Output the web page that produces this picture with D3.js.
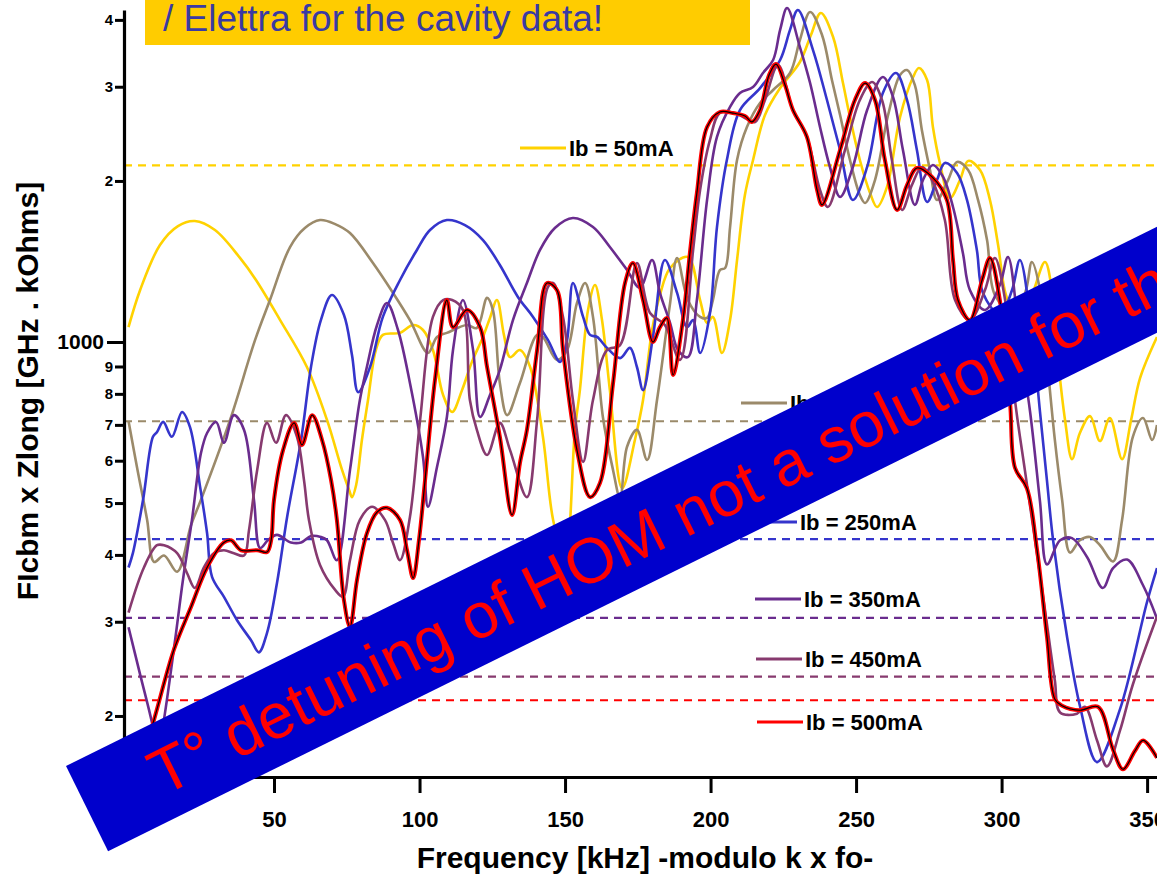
<!DOCTYPE html>
<html>
<head>
<meta charset="utf-8">
<script src="https://cdn.jsdelivr.net/npm/d3@7"></script>
<style>
  html, body { margin: 0; padding: 0; background: #fff; overflow: hidden; }
  svg { display: block; font-family: "Liberation Sans", Arial, sans-serif; }
</style>
</head>
<body>
<svg id="chart" width="1157" height="874"></svg>
<script>
// beam currents and their instability thresholds (GHz . kOhms)
const seriesLabels = ["Ib = 50mA", "Ib = 150mA", "Ib = 250mA", "Ib = 350mA", "Ib = 450mA", "Ib = 500mA"];
const thresholds = [2138, 711, 428, 305, 237, 214];
const xTicks = [50, 100, 150, 200, 250, 300, 350];
const yTicks = [200, 300, 400, 500, 600, 700, 800, 900, 1000, 2000, 3000, 4000];
const yTickLabels = ["2", "3", "4", "5", "6", "7", "8", "9", "1000", "2", "3", "4"];

// [frequency kHz, FIcbm x Zlong]
const ib50 = [[0,1066],[4.0,1251],[10.8,1518],[17.0,1647],[22.8,1683],[29.7,1619],[38.3,1436],[43.8,1306],[52.1,1099],[61.3,898],[68.2,715],[73.4,576],[75.8,529],[76.8,513],[78.2,540],[80.2,656],[82.3,779],[85.0,966],[87.4,1031],[93.3,1040],[97.8,1076],[101.2,1053],[104.6,966],[108.1,796],[111.2,740],[114.6,813],[118.0,918],[121.8,1022],[124.2,1109],[126.6,1198],[129.0,1031],[131.1,937],[134.5,966],[138.0,898],[142.4,665],[145.9,465],[150.0,391],[153.4,685],[155.1,813],[157.9,1148],[160.3,1278],[162.7,1099],[165.4,813],[169.6,533],[174.0,656],[176.8,779],[179.9,1053],[182.6,1224],[186.1,1375],[192.2,1442],[196.4,1198],[198.8,1085],[200.8,1114],[203.9,954],[206.7,1099],[209.1,1423],[211.8,1883],[214.6,2189],[218.7,2656],[223.9,2983],[230.7,3337],[234.5,3749],[237.9,4121],[242.1,3717],[245.5,3048],[247.9,2633],[251.3,2189],[254.8,1899],[257.2,1788],[260.6,1948],[265.1,2633],[269.6,3128],[271.6,3252],[274.4,3088],[276.4,2523],[278.8,2161],[282.3,1859],[285.7,2008],[288.5,2180],[292.6,2097],[296.0,1843],[298.8,1518],[301.5,1224],[305.6,1099],[310.4,1224],[314.9,1411],[317.3,1251],[319.4,926],[321.8,715],[324.2,604],[326.9,676],[330.4,727],[333.8,653],[337.2,721],[341.4,604],[344.5,715],[347.6,857],[353.4,1022]];

const ib150 = [[0,712],[2.9,584],[6.4,465],[8.8,388],[12.2,399],[16.7,372],[21.5,455],[24.9,507],[34.9,715],[43.5,1009],[48.6,1198],[55.5,1505],[60.6,1633],[65.8,1690],[71.0,1661],[76.1,1598],[84.0,1405],[90.9,1235],[96.7,1099],[102.9,954],[106.0,1022],[109.4,1040],[116.3,1076],[119.7,1062],[123.2,1209],[125.2,1148],[127.6,838],[130.1,730],[134.5,838],[140.4,1031],[142.4,1022],[147.2,926],[150.7,966],[154.1,1183],[156.9,1289],[159.6,1114],[163.0,724],[166.5,576],[168.9,511],[171.3,637],[174.7,685],[178.2,602],[181.6,779],[186.1,1183],[188.5,1436],[192.2,1198],[196.4,1114],[198.8,1109],[200.8,1198],[203.2,1363],[205.0,1375],[206.7,1640],[209.1,2189],[212.5,2523],[217.0,2798],[221.5,2958],[227.3,3183],[230.7,3668],[234.2,4138],[238.3,3749],[241.7,3088],[244.5,2656],[247.9,2189],[251.3,1883],[253.1,1819],[256.5,2008],[261.0,2656],[265.1,3155],[267.5,3224],[270.2,3022],[272.6,2491],[275.4,2097],[277.8,1843],[281.6,2008],[284.7,2170],[288.5,2097],[291.9,1843],[295.0,1551],[297.7,1224],[304.6,1124],[308.4,1251],[310.4,1411],[313.2,1251],[315.6,926],[318.3,656],[320.8,507],[323.5,404],[326.9,426],[330.4,432],[333.8,417],[338.3,389],[341.4,465],[345.1,665],[348.6,721],[351.7,656],[353.4,700]];

const ib250 = [[0,379],[1.5,403],[5.0,507],[8.4,665],[9.8,679],[11.9,709],[14.9,665],[18.4,740],[21.1,694],[24.6,536],[27.0,439],[28.7,364],[32.8,334],[37.3,302],[42.1,277],[44.8,263],[47.6,286],[51.0,354],[54.5,471],[59.3,656],[62.7,898],[66.1,1099],[69.9,1224],[74.0,1124],[76.8,945],[78.9,806],[83.0,898],[87.4,1114],[93.3,1306],[99.1,1486],[103.6,1619],[109.4,1690],[115.6,1654],[121.8,1551],[127.6,1393],[133.8,1214],[139.0,1114],[144.1,1009],[148.3,918],[150.7,1009],[152.7,1289],[156.2,1114],[158.6,1031],[161.0,1022],[164.4,975],[168.9,933],[172.3,975],[174.7,898],[176.8,813],[180.2,1022],[184.3,1423],[188.5,1235],[191.9,1066],[194.0,1099],[196.4,954],[199.8,1133],[202.2,1640],[205.6,2189],[210.1,2714],[217.0,2983],[223.9,3366],[227.3,3831],[230.0,4174],[235.2,3513],[240.0,2834],[244.5,2285],[248.9,1843],[253.8,2124],[259.2,2920],[263.7,3183],[267.5,2834],[270.9,2285],[274.4,1827],[277.8,2008],[280.5,2161],[284.7,2070],[288.1,1843],[291.5,1486],[293.6,1235],[299.4,1124],[303.6,1251],[306.3,1423],[310.8,1000],[313.2,740],[315.6,550],[317.7,426],[322.5,281],[326.9,209],[332.8,164],[340.7,206],[350.0,327],[353.4,378]];

const ib350 = [[0,293],[4.0,239],[8.1,194],[10.1,169],[12.5,202],[16.0,277],[18.7,359],[21.8,465],[24.9,620],[27.0,676],[30.1,709],[32.8,648],[36.2,730],[39.7,685],[43.1,507],[45.2,412],[47.9,426],[51.0,436],[55.8,422],[59.3,422],[62.7,434],[66.1,432],[68.2,426],[71.6,391],[76.1,576],[79.5,779],[81.9,898],[85.4,1076],[88.8,1183],[92.6,1053],[96.7,838],[101.2,609],[102.9,492],[106.0,584],[109.4,724],[111.5,966],[114.9,1198],[118.4,966],[120.8,724],[124.2,796],[127.6,887],[132.1,1099],[136.9,1289],[141.4,1486],[146.5,1633],[152.7,1705],[159.6,1640],[165.4,1505],[171.3,1363],[175.7,1262],[179.9,1423],[182.6,1235],[186.1,1085],[188.8,966],[192.2,937],[195.3,1198],[198.8,1843],[202.2,2417],[206.7,2750],[210.1,2920],[214.6,2996],[218.0,3183],[221.5,3366],[223.9,3831],[226.3,4210],[230.7,3559],[234.2,3048],[237.6,2523],[241.0,2124],[244.5,1867],[248.9,2124],[253.8,2714],[259.2,3128],[262.7,2870],[266.1,2285],[270.2,1804],[273.0,2008],[276.4,2142],[279.9,2035],[283.3,1788],[286.7,1467],[289.1,1251],[294.3,1148],[299.4,1278],[302.2,1442],[306.3,1000],[309.8,740],[313.2,503],[315.6,384],[320.1,426],[324.2,430],[329.4,396],[334.8,347],[338.3,378],[343.1,392],[348.6,351],[353.4,304]];

const ib450 = [[0,312],[5.3,379],[9.8,417],[12.2,417],[16.7,403],[20.1,370],[22.8,347],[25.9,379],[29.4,403],[32.8,408],[36.2,403],[39.7,399],[41.4,445],[44.2,576],[47.6,706],[50.7,648],[54.1,730],[57.9,665],[60.3,552],[62.0,465],[65.8,383],[71.0,344],[73.7,334],[76.1,391],[79.5,465],[83.7,492],[88.1,465],[90.9,421],[93.3,391],[96.7,471],[100.2,715],[104.6,1114],[108.1,1198],[111.2,1198],[114.9,1148],[117.3,779],[119.7,685],[123.2,615],[127.6,706],[131.1,628],[136.9,513],[140.4,715],[144.1,1267],[145.9,1289],[149.3,1114],[152.7,779],[156.2,597],[159.6,779],[164.4,966],[168.9,987],[174.7,1405],[179.2,1133],[184.3,1076],[189.5,926],[194.0,1486],[196.4,1924],[199.8,2386],[203.2,2679],[208.4,2679],[211.8,2622],[215.3,2578],[218.7,2834],[223.2,3294],[228.3,2714],[233.1,2417],[237.6,1924],[240.3,1788],[246.2,2285],[251.3,2834],[255.5,3061],[258.9,2834],[262.3,2189],[265.8,1765],[269.2,1965],[272.6,2124],[276.1,2008],[280.5,1690],[284.0,1198],[289.1,1099],[294.3,1251],[297.7,1436],[301.2,1198],[304.6,779],[308.0,576],[311.5,426],[314.9,316],[318.3,233],[320.1,203],[325.9,202],[328.6,208],[332.8,180],[336.2,161],[340.7,188],[345.1,229],[353.4,307]];

const ib500 = [[4.0,161],[8.8,197],[15.6,266],[21.5,320],[27.0,379],[32.8,422],[35.2,426],[38.7,408],[44.2,408],[47.6,405],[49.0,426],[50.0,507],[53.1,628],[56.9,706],[59.6,642],[63.1,730],[66.5,656],[69.6,552],[71.6,465],[74.0,330],[76.1,293],[78.5,359],[81.9,439],[85.4,481],[88.8,490],[93.3,465],[95.7,408],[97.8,362],[99.8,426],[101.9,552],[105.3,849],[109.4,1198],[111.5,1066],[116.3,1148],[120.8,1066],[123.2,898],[127.6,665],[131.8,475],[134.5,594],[136.9,685],[140.4,966],[143.8,1289],[147.2,1251],[149.3,966],[154.1,628],[158.6,513],[162.0,545],[166.5,838],[170.6,1289],[173.3,1405],[176.8,1198],[180.2,1000],[182.6,1066],[185.0,1109],[187.1,868],[190.5,1099],[192.9,1467],[195.3,1899],[198.8,2523],[203.2,2691],[207.7,2679],[211.8,2645],[214.2,2578],[217.0,2714],[220.1,3155],[222.5,3308],[225.6,3022],[228.3,2714],[233.1,2417],[236.6,1924],[238.3,1804],[244.5,2285],[249.6,2834],[253.1,3048],[256.5,2834],[259.9,2189],[264.1,1765],[267.5,1965],[270.9,2115],[276.1,2035],[281.2,1843],[283.3,1423],[285.0,1198],[289.1,1099],[293.3,1306],[296.0,1436],[299.4,1198],[302.9,772],[304.6,582],[308.7,533],[312.2,408],[315.6,281],[318.3,215],[320.8,209],[326.9,205],[333.1,208],[338.3,173],[341.7,159],[345.8,172],[348.6,180],[353.4,167]];

const series = [ib50, ib150, ib250, ib350, ib450, ib500];
const colors = ["#FFD200", "#9B8A6A", "#3535CC", "#6A2C8E", "#873A6F", "#FF0000"];

const svg = d3.select("#chart");
const x = d3.scaleLinear().domain([-1.55, 353.4]).range([124, 1157]);
const y = d3.scaleLog().domain([153.8, 4174]).range([777, 10]);

svg.append("defs").append("clipPath").attr("id", "plot-clip")
    .append("rect").attr("x", 124).attr("y", 0).attr("width", 1033).attr("height", 777);

// threshold lines
svg.append("g").selectAll("line").data(thresholds).join("line")
    .attr("x1", 124).attr("x2", 1157)
    .attr("y1", d => y(d)).attr("y2", d => y(d))
    .attr("stroke", (d, i) => colors[i])
    .attr("stroke-width", 2.2)
    .attr("stroke-dasharray", "8,6");

const line = d3.line()
    .x(d => x(d[0]))
    .y(d => y(d[1]))
    .curve(d3.curveCatmullRom.alpha(0.5));

const curves = svg.append("g").attr("clip-path", "url(#plot-clip)").attr("fill", "none");
series.forEach((s, i) => {
    curves.append("path")
        .attr("d", line(s))
        .attr("stroke", colors[i])
        .attr("stroke-width", i === 5 ? 4 : 2.6)
        .attr("stroke-linejoin", "round");
});
// black core on the 500mA curve
curves.append("path")
    .attr("d", line(ib500))
    .attr("stroke", "#000")
    .attr("stroke-width", 1.2);

// axes
const yAxis = svg.append("g")
    .attr("transform", "translate(124,0)")
    .call(d3.axisLeft(y).tickValues(yTicks).tickFormat((d, i) => yTickLabels[i]).tickSize(9).tickSizeOuter(0));
yAxis.select(".domain").attr("stroke-width", 3.2);
yAxis.selectAll(".tick line").attr("stroke-width", 3)
    .attr("x2", d => d === 1000 ? -17 : -9);
yAxis.selectAll(".tick text")
    .attr("fill", "#000")
    .attr("font-weight", "bold")
    .attr("font-family", "Liberation Sans, Arial, sans-serif")
    .attr("font-size", d => d === 1000 ? 21 : 15)
    .attr("x", d => d === 1000 ? -20 : -11);

const xAxis = svg.append("g")
    .attr("transform", "translate(0,777)")
    .call(d3.axisBottom(x).tickValues(xTicks).tickSize(16).tickSizeOuter(0));
xAxis.select(".domain").attr("stroke-width", 3.2);
xAxis.selectAll(".tick line").attr("stroke-width", 3);
xAxis.selectAll(".tick text")
    .attr("fill", "#000")
    .attr("font-weight", "bold")
    .attr("font-family", "Liberation Sans, Arial, sans-serif")
    .attr("font-size", 22)
    .attr("y", 34);

svg.append("text")
    .attr("x", 645).attr("y", 868)
    .attr("text-anchor", "middle")
    .attr("font-weight", "bold")
    .attr("font-size", 30)
    .text("Frequency [kHz] -modulo k x fo-");

svg.append("text")
    .attr("transform", "translate(38,391) rotate(-90)")
    .attr("text-anchor", "middle")
    .attr("font-weight", "bold")
    .attr("font-size", 30)
    .text("FIcbm x Zlong [GHz . kOhms]");

// legend labels sitting above each threshold line
const legendPos = [[520, 148], [741, 403], [751, 522], [755, 599], [756, 659], [757, 722]];
const legend = svg.append("g");
seriesLabels.forEach((lbl, i) => {
    const [lx, ly] = legendPos[i];
    legend.append("line")
        .attr("x1", lx).attr("x2", lx + 46)
        .attr("y1", ly).attr("y2", ly)
        .attr("stroke", colors[i]).attr("stroke-width", 3);
    legend.append("text")
        .attr("x", lx + 49).attr("y", ly + 8)
        .attr("font-weight", "bold")
        .attr("font-size", 22)
        .text(lbl);
});

// note box at top
svg.append("rect")
    .attr("x", 145).attr("y", -5).attr("width", 605).attr("height", 50)
    .attr("fill", "#FFCC00");
svg.append("text")
    .attr("x", 163).attr("y", 31)
    .attr("font-size", 37)
    .attr("fill", "#3A3AA3")
    .text("/ Elettra for the cavity data!");

// diagonal banner
const banner = svg.append("g").attr("transform", "translate(66,766) rotate(-26.3)");
banner.append("rect")
    .attr("x", 0).attr("y", 0).attr("width", 1400).attr("height", 95)
    .attr("fill", "#0000CC");
banner.append("text")
    .attr("x", 73).attr("y", 70)
    .attr("font-size", 64)
    .attr("fill", "#FF0000")
    .text("T° detuning of HOM not a solution for the");
</script>
</body>
</html>
